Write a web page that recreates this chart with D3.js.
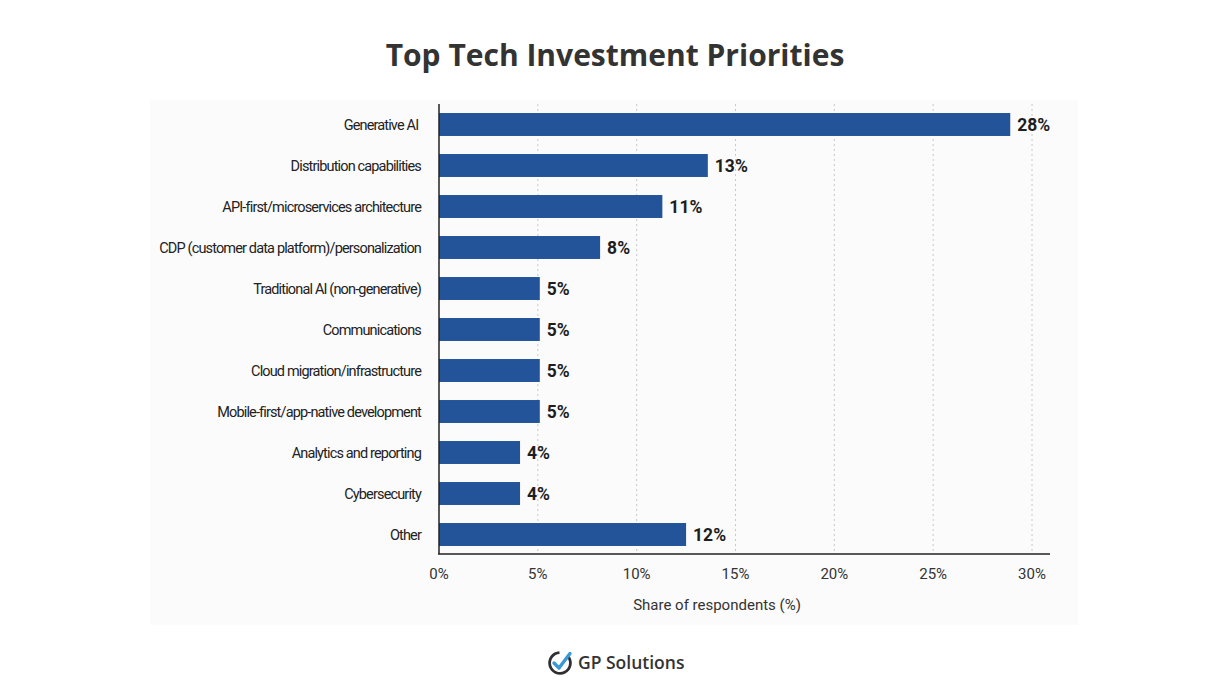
<!DOCTYPE html>
<html>
<head>
<meta charset="utf-8">
<script src="https://cdn.jsdelivr.net/npm/d3@7"></script>
<style>
  body { margin: 0; background: #fff; }
  svg { display: block; }
</style>
</head>
<body>
<div id="chart"></div>
<script>
// categories, top to bottom
var categories = [
  "Generative AI ",
  "Distribution capabilities",
  "API-first/microservices architecture",
  "CDP (customer data platform)/personalization",
  "Traditional AI (non-generative)",
  "Communications",
  "Cloud migration/infrastructure",
  "Mobile-first/app-native development",
  "Analytics and reporting",
  "Cybersecurity",
  "Other"
];
// bar lengths as drawn in the picture (%)
var values = [28.9, 13.6, 11.3, 8.15, 5.1, 5.1, 5.1, 5.1, 4.1, 4.1, 12.5];
// printed labels
var valueLabels = ["28%", "13%", "11%", "8%", "5%", "5%", "5%", "5%", "4%", "4%", "12%"];
var xTicks = [0, 5, 10, 15, 20, 25, 30];

var W = 1230, H = 699;
var plotLeft = 439, plotRight = 1050, plotTop = 104, plotBottom = 554;

var svg = d3.select('#chart').append('svg')
    .attr('width', W)
    .attr('height', H);

svg.append('rect')
    .attr('width', W).attr('height', H)
    .attr('fill', '#fff');

// faint panel behind the chart
svg.append('rect')
    .attr('x', 150).attr('y', 100)
    .attr('width', 928).attr('height', 525)
    .attr('fill', '#fbfbfb');

svg.append('text')
    .attr('x', 615).attr('y', 66)
    .attr('text-anchor', 'middle')
    .style('font-family', '"Open Sans", sans-serif')
    .style('font-weight', 700)
    .style('font-size', '30px')
    .attr('fill', '#333')
    .text('Top Tech Investment Priorities');

var x = d3.scaleLinear().domain([0, 30]).range([plotLeft, 1032]);
var y = d3.scaleBand().domain(categories).range([plotTop, plotBottom + 1]).paddingInner(0.44).paddingOuter(0.22);

// dotted grid
svg.append('g').selectAll('line')
    .data(xTicks.slice(1))
    .enter().append('line')
    .attr('x1', function (d) { return x(d); })
    .attr('x2', function (d) { return x(d); })
    .attr('y1', plotTop)
    .attr('y2', plotBottom)
    .style('stroke', '#c8c8c8')
    .style('stroke-width', 1)
    .style('stroke-dasharray', '2,3');

// bars
svg.append('g').selectAll('rect')
    .data(values)
    .enter().append('rect')
    .attr('x', x(0))
    .attr('y', function (d, i) { return y(categories[i]); })
    .attr('width', function (d) { return x(d) - x(0); })
    .attr('height', y.bandwidth())
    .attr('fill', '#23549a');

// value labels
svg.append('g').selectAll('text')
    .data(values)
    .enter().append('text')
    .attr('x', function (d) { return x(d) + 7; })
    .attr('y', function (d, i) { return y(categories[i]) + y.bandwidth() / 2; })
    .attr('dy', '0.36em')
    .style('font-family', 'Roboto, sans-serif')
    .style('font-weight', 700)
    .style('font-size', '17.5px')
    .attr('fill', '#1e1e1e')
    .text(function (d, i) { return valueLabels[i]; });

// category labels
svg.append('g').selectAll('text')
    .data(categories)
    .enter().append('text')
    .attr('x', 421)
    .attr('y', function (d) { return y(d) + y.bandwidth() / 2; })
    .attr('dy', '0.35em')
    .attr('text-anchor', 'end')
    .style('white-space', 'pre')
    .style('font-family', 'Roboto, sans-serif')
    .style('font-size', '14.5px')
    .style('letter-spacing', '-0.85px')
    .attr('fill', '#222')
    .text(function (d) { return d; });

// axes
svg.append('line')
    .attr('x1', plotLeft).attr('x2', plotLeft)
    .attr('y1', plotTop).attr('y2', plotBottom)
    .style('stroke', '#222').style('stroke-width', 1.5);
svg.append('line')
    .attr('x1', plotLeft - 1).attr('x2', plotRight)
    .attr('y1', plotBottom).attr('y2', plotBottom)
    .style('stroke', '#222').style('stroke-width', 1.5);

svg.append('g').selectAll('text')
    .data(xTicks)
    .enter().append('text')
    .attr('x', function (d) { return x(d); })
    .attr('y', 579)
    .attr('text-anchor', 'middle')
    .style('font-family', 'Roboto, sans-serif')
    .style('font-size', '15px')
    .attr('fill', '#333')
    .text(function (d) { return d + '%'; });

svg.append('text')
    .attr('x', 717).attr('y', 610)
    .attr('text-anchor', 'middle')
    .style('font-family', 'Roboto, sans-serif')
    .style('font-size', '15px')
    .attr('fill', '#333')
    .text('Share of respondents (%)');

// logo
var logo = svg.append('g').attr('transform', 'translate(560,663)');
logo.append('path')
    .attr('d', d3.arc()({ innerRadius: 9, outerRadius: 11.8, startAngle: 0.9, endAngle: 2 * Math.PI - 0.05 }))
    .attr('fill', '#2f2f33');
logo.append('path')
    .attr('d', 'M-6,0 L-1,5 L10,-9.5')
    .attr('fill', 'none')
    .attr('stroke', '#3a98d6')
    .attr('stroke-width', 3.4)
    .attr('stroke-linecap', 'round')
    .attr('stroke-linejoin', 'round');
svg.append('text')
    .attr('x', 578).attr('y', 669)
    .style('font-family', '"Open Sans", sans-serif')
    .style('font-weight', 600)
    .style('font-size', '17.5px')
    .attr('fill', '#333')
    .text('GP Solutions');
</script>
</body>
</html>
